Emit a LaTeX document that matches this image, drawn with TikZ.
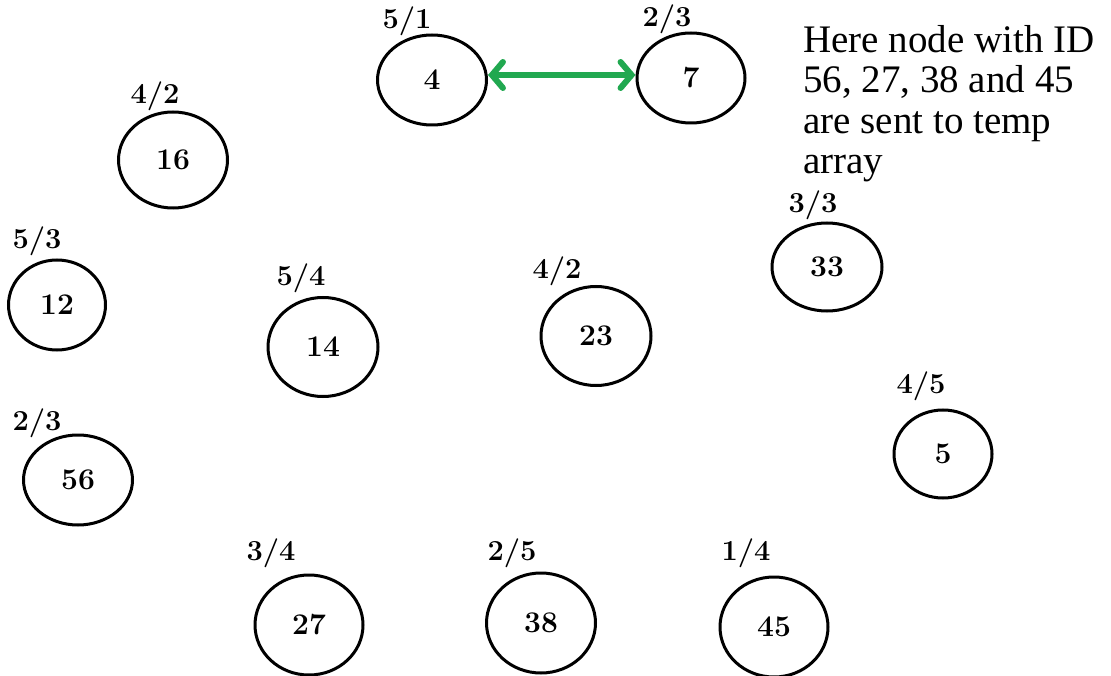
\documentclass[tikz,border=0pt]{standalone}
\usepackage{fontspec}
\newfontfamily\notefont{Liberation Serif}
\usetikzlibrary{shapes.geometric,arrows.meta}
\definecolor{arrowgreen}{RGB}{33,168,80}
\tikzset{
  nd/.style={ellipse, draw=black, line width=3pt, inner sep=0pt, font=\fontsize{30}{32}\selectfont\bfseries},
  lbl/.style={font=\fontsize{29}{31}\selectfont\bfseries, inner sep=0pt},
  note/.style={font=\notefont\fontsize{39}{40.5}\selectfont, align=left, inner sep=0pt, anchor=north west},
  link/.style={draw=arrowgreen, line width=6pt, line cap=round, {Straight Barb[length=11pt,width=26pt,line cap=round,line width=6pt]}-{Straight Barb[length=11pt,width=26pt,line cap=round,line width=6pt]}}
}
\begin{document}
\begin{tikzpicture}[x=1pt,y=-1pt]
\useasboundingbox (0,0) rectangle (1111,676);
% nodes
\node[nd, minimum width=109pt, minimum height=90pt] (n4) at (432,80) {4};
\node[nd, minimum width=108pt, minimum height=90pt] (n7) at (691,78) {7};
\node[nd, minimum width=109pt, minimum height=96pt] (n16) at (173,160) {16};
\node[nd, minimum width=97pt, minimum height=90pt] (n12) at (57,305) {12};
\node[nd, minimum width=110pt, minimum height=99pt] (n14) at (323,347) {14};
\node[nd, minimum width=110pt, minimum height=99pt] (n23) at (596,336) {23};
\node[nd, minimum width=110pt, minimum height=88pt] (n33) at (827,267) {33};
\node[nd, minimum width=98pt, minimum height=88pt] (n5) at (943,454) {5};
\node[nd, minimum width=109pt, minimum height=90pt] (n56) at (78,480) {56};
\node[nd, minimum width=108pt, minimum height=100pt] (n27) at (309,625) {27};
\node[nd, minimum width=109pt, minimum height=100pt] (n38) at (541,623) {38};
\node[nd, minimum width=108pt, minimum height=100pt] (n45) at (774,627) {45};
% labels
\node[lbl] (l4) at (407,21) {5/1};
\node[lbl] (l7) at (667,19) {2/3};
\node[lbl] (l16) at (155,96) {4/2};
\node[lbl] (l12) at (37,241) {5/3};
\node[lbl] (l14) at (301,278) {5/4};
\node[lbl] (l23) at (557,271) {4/2};
\node[lbl] (l33) at (813,205) {3/3};
\node[lbl] (l5) at (921,386) {4/5};
\node[lbl] (l56) at (37,423) {2/3};
\node[lbl] (l27) at (271,553) {3/4};
\node[lbl] (l38) at (512,553) {2/5};
\node[lbl] (l45) at (746,553) {1/4};
% note
\node[note] (txt) at (803,25) {Here node with ID\\56, 27, 38 and 45\\are sent to temp\\array};
% arrow
\coordinate (aL) at ([yshift=5pt]n4.east);
\coordinate (aR) at (aL -| n7.west);
\draw[link] (aL) -- (aR);
\end{tikzpicture}
\end{document}
